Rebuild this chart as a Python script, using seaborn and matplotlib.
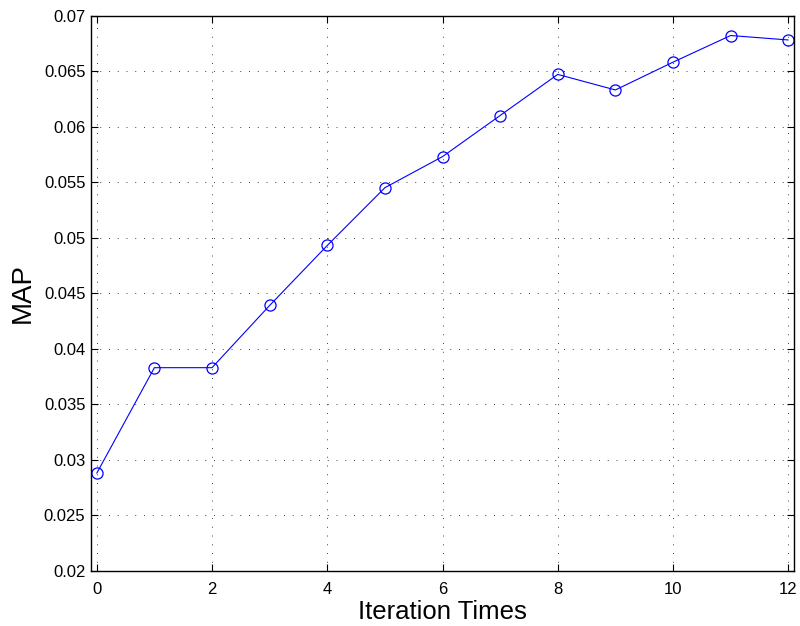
import numpy as np
import pandas as pd
import matplotlib
matplotlib.use("Agg")
import matplotlib.pyplot as plt
import seaborn as sns

# data
iterations = [0, 1, 2, 3, 4, 5, 6, 7, 8, 9, 10, 11, 12]
map_values = [0.0288, 0.0383, 0.0383, 0.0439, 0.0493, 0.0545, 0.0573,
              0.0610, 0.0647, 0.0633, 0.0658, 0.0682, 0.0678]
x_ticks = [0, 2, 4, 6, 8, 10, 12]
y_ticks = [0.02, 0.025, 0.03, 0.035, 0.04, 0.045, 0.05, 0.055, 0.06, 0.065, 0.07]

df = pd.DataFrame({"iter": iterations, "map": map_values})

sns.set_style("ticks")
plt.rcParams['font.family'] = ['Liberation Sans', 'DejaVu Sans']

fig = plt.figure(figsize=(8, 6.26), dpi=100)
ax = fig.add_axes([0.11375, 0.0879, 0.87875, 0.8873])

sns.lineplot(data=df, x="iter", y="map", ax=ax, color="blue", linewidth=0.8,
             marker="o", markersize=8, markerfacecolor="none",
             markeredgecolor="blue", markeredgewidth=0.9)

ax.set_xlim(-0.1, 12.1)
ax.set_ylim(0.02, 0.07)
ax.set_xticks(x_ticks)
ax.set_yticks(y_ticks)
ax.set_yticklabels([f"{v:g}" for v in y_ticks])
ax.grid(True, linestyle=(0, (1, 8)), color="black", linewidth=0.7, alpha=0.75)
ax.tick_params(direction="in", top=True, right=True, labelsize=12, length=5,
               width=0.8, colors="black", labelcolor="black")
ax.tick_params(axis="x", pad=8)
ax.tick_params(axis="y", pad=4)
for s in ax.spines.values():
    s.set_linewidth(1.0)
    s.set_color("black")
ax.set_xlabel("Iteration Times", fontsize=18.5, labelpad=2, color="black")
ax.set_ylabel("MAP", fontsize=20, labelpad=6, color="black")

fig.savefig("out.png", dpi=100)
